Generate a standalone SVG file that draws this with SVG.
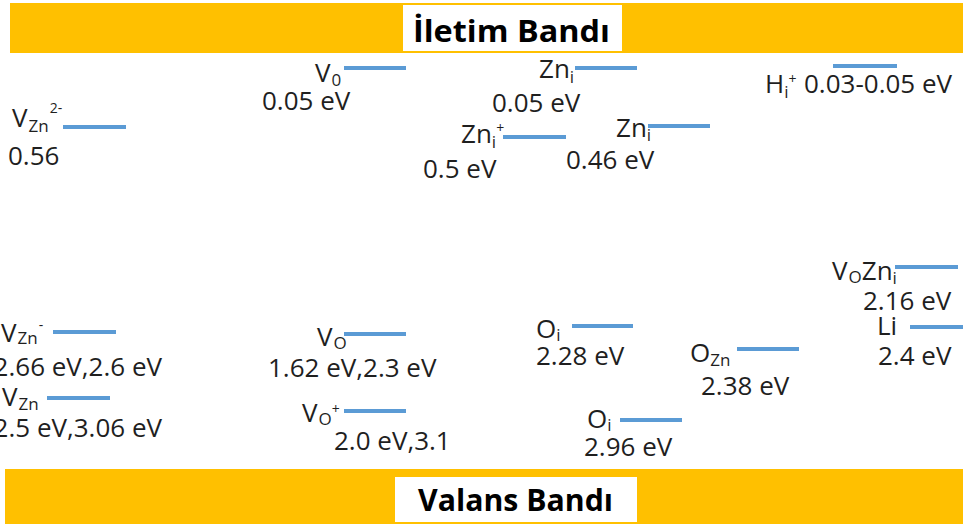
<svg xmlns="http://www.w3.org/2000/svg" width="963" height="524" viewBox="0 0 963 524">
<style>
.band{fill:#FFC000}
.box{fill:#FFFFFF}
.title{font-family:"Open Sans","Liberation Sans",sans-serif;font-weight:bold;font-size:31px;fill:#000}
.t{font-family:"Open Sans","Liberation Sans",sans-serif;font-size:26px;fill:#1f1f1f}
.sub{font-size:17px}
.sup{font-size:14px}
.lvl{stroke:#5B9BD5;stroke-width:4;fill:none}
</style>
<rect width="963" height="524" fill="#FFFFFF"/>
<g id="conduction-band">
<rect class="band" x="10" y="3" width="953" height="50"/>
<rect class="box" x="403" y="5" width="219" height="46"/>
<text class="title" x="413" y="42" textLength="197" lengthAdjust="spacingAndGlyphs">İletim Bandı</text>
</g>
<g id="valence-band">
<rect class="band" x="5" y="469" width="958" height="55"/>
<rect class="box" x="395" y="477" width="242" height="45"/>
<text class="title" x="418" y="511" textLength="195" lengthAdjust="spacingAndGlyphs">Valans Bandı</text>
</g>
<g id="connectors"></g>
<g id="vzn2">
<line class="lvl" x1="63" y1="127" x2="126" y2="127"/>
<text class="t" x="12" y="127">V<tspan class="sub" dx="1" dy="5">Zn</tspan><tspan class="sup" dx="1" dy="-19">2-</tspan></text>
<text class="t" x="8" y="165">0.56</text>
</g>
<g id="vo-top">
<line class="lvl" x1="344" y1="68" x2="406" y2="68"/>
<text class="t" x="315" y="82">V<tspan class="sub" dx="1" dy="4">0</tspan></text>
<text class="t" x="262" y="110">0.05 eV</text>
</g>
<g id="zni-top">
<line class="lvl" x1="575" y1="68" x2="637" y2="68"/>
<text class="t" x="539" y="78">Zn<tspan class="sub" dy="5">i</tspan></text>
<text class="t" x="492" y="112">0.05 eV</text>
</g>
<g id="zni-plus">
<line class="lvl" x1="503" y1="137" x2="566" y2="137"/>
<text class="t" x="461" y="143">Zn<tspan class="sub" dy="5">i</tspan><tspan class="sup" dy="-15">+</tspan></text>
<text class="t" x="423" y="178">0.5 eV</text>
</g>
<g id="zni-046">
<line class="lvl" x1="648" y1="126" x2="710" y2="126"/>
<text class="t" x="616" y="137">Zn<tspan class="sub" dy="4">i</tspan></text>
<text class="t" x="566" y="169">0.46 eV</text>
</g>
<g id="hi-plus">
<line class="lvl" x1="833" y1="66" x2="897" y2="66"/>
<text class="t" x="765" y="93">H<tspan class="sub" dy="5">i</tspan><tspan class="sup" dy="-14">+</tspan><tspan x="804" y="93">0.03-0.05 eV</tspan></text>
</g>
<g id="vzn-minus">
<line class="lvl" x1="53" y1="332" x2="116" y2="332"/>
<text class="t" x="1" y="342">V<tspan class="sub" dx="1" dy="2">Zn</tspan><tspan class="sup" dx="1" dy="-14">-</tspan></text>
<text class="t" x="162" y="376" text-anchor="end">2.66 eV,2.6 eV</text>
</g>
<g id="vzn">
<line class="lvl" x1="47" y1="398" x2="110" y2="398"/>
<text class="t" x="2" y="406">V<tspan class="sub" dx="1" dy="4">Zn</tspan></text>
<text class="t" x="162" y="437" text-anchor="end">2.5 eV,3.06 eV</text>
</g>
<g id="vo-mid">
<line class="lvl" x1="344" y1="334" x2="406" y2="334"/>
<text class="t" x="317" y="346">V<tspan class="sub" dx="1" dy="3">O</tspan></text>
<text class="t" x="268" y="377">1.62 eV,2.3 eV</text>
</g>
<g id="vo-plus">
<line class="lvl" x1="344" y1="411" x2="406" y2="411"/>
<text class="t" x="302" y="422">V<tspan class="sub" dx="1" dy="3">O</tspan><tspan class="sup" dy="-11">+</tspan></text>
<text class="t" x="334" y="450">2.0 eV,3.1</text>
</g>
<g id="oi-228">
<line class="lvl" x1="572" y1="326" x2="633" y2="326"/>
<text class="t" x="536" y="338">O<tspan class="sub" dy="3">i</tspan></text>
<text class="t" x="536" y="365">2.28 eV</text>
</g>
<g id="ozn">
<line class="lvl" x1="737" y1="349" x2="799" y2="349"/>
<text class="t" x="690" y="362">O<tspan class="sub" dy="4">Zn</tspan></text>
<text class="t" x="701" y="395">2.38 eV</text>
</g>
<g id="oi-296">
<line class="lvl" x1="620" y1="420" x2="682" y2="420"/>
<text class="t" x="587" y="428">O<tspan class="sub" dy="3">i</tspan></text>
<text class="t" x="584" y="456">2.96 eV</text>
</g>
<g id="vozni">
<line class="lvl" x1="895" y1="267" x2="958" y2="267"/>
<text class="t" x="832" y="280">V<tspan class="sub" dx="1" dy="3">O</tspan><tspan dy="-3">Zn</tspan><tspan class="sub" dy="4">i</tspan></text>
<text class="t" x="863" y="310">2.16 eV</text>
</g>
<g id="li">
<line class="lvl" x1="910" y1="327" x2="963" y2="327"/>
<text class="t" x="877" y="335">Li</text>
<text class="t" x="878" y="365">2.4 eV</text>
</g>
</svg>
